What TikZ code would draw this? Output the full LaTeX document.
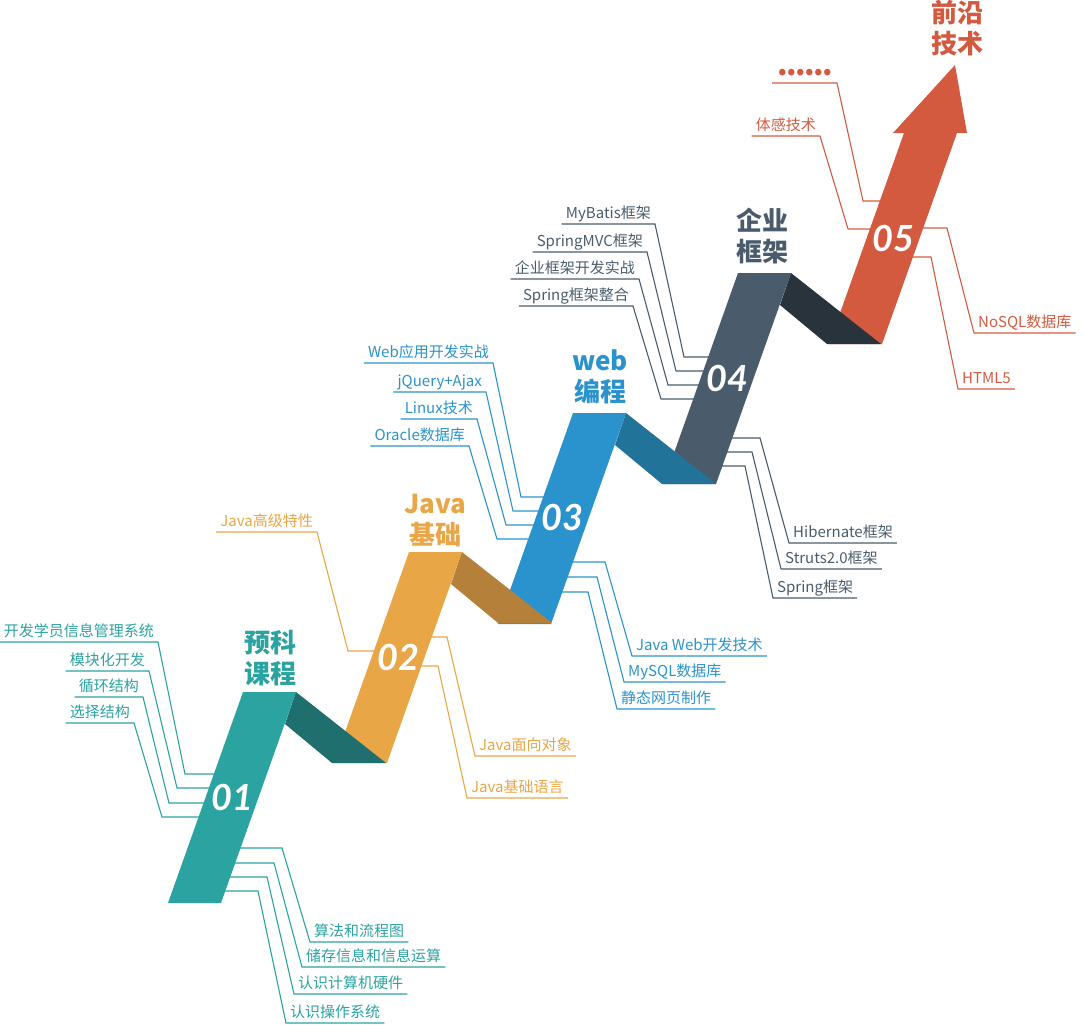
\documentclass[tikz,border=0pt]{standalone}
\usepackage{fontspec}
\setmainfont{Noto Sans CJK SC}
\newfontfamily\numfont{Lato}
\definecolor{Teal}{HTML}{2BA3A1}
\definecolor{TealDark}{HTML}{1F6F6E}
\definecolor{Amber}{HTML}{E9A646}
\definecolor{AmberDark}{HTML}{B5803A}
\definecolor{Sky}{HTML}{2A93CD}
\definecolor{SkyDark}{HTML}{22739A}
\definecolor{Slate}{HTML}{4A5C6C}
\definecolor{SlateDark}{HTML}{28333B}
\definecolor{Brick}{HTML}{D45A3F}
\tikzset{
  tag/.style={font=\fontsize{15}{15}\selectfont,inner xsep=4pt,inner ysep=1.5pt,text depth=4pt},
  lead/.style={line width=1.1pt},
  title/.style={font=\fontsize{26}{31}\selectfont\bfseries,align=center,inner sep=0pt,anchor=south},
  num/.style={font=\numfont\bfseries\itshape\fontsize{36}{36}\selectfont,text=white,inner sep=0pt}
}
% label left of a step: name, colour, text, underline end x, underline y, corner x, corner y, end x
\newcommand{\tagleft}[8]{%
  \node[tag,text=#2,anchor=south east] (#1) at (#4,#5) {#3};
  \draw[lead,#2] (#1.south west) -- (#1.south east) -- (#6,#7) -- (#8,#7);
}
% label right of a step: name, colour, text, start x, start y, corner x, label x, label y
\newcommand{\tagright}[8]{%
  \node[tag,text=#2,anchor=south west] (#1) at (#7,#8) {#3};
  \draw[lead,#2] (#4,#5) -- (#6,#5) -- (#1.south west) -- (#1.south east);
}

\begin{document}
\begin{tikzpicture}[x=1pt,y=-1pt]
  \useasboundingbox (0,0) rectangle (1084,1025);
  % 01
  \tagleft{t1a}{Teal}{开发学员信息管理系统}{158}{642}{185}{774}{235}
  \tagleft{t1b}{Teal}{模块化开发}{149}{671}{177}{788}{235}
  \tagleft{t1c}{Teal}{循环结构}{143}{697}{169}{803}{235}
  \tagleft{t1d}{Teal}{选择结构}{134}{723}{162}{817}{235}
  \tagright{t1e}{Teal}{算法和流程图}{215}{848}{282}{310}{942}
  \tagright{t1f}{Teal}{储存信息和信息运算}{215}{863}{274}{302}{967}
  \tagright{t1g}{Teal}{认识计算机硬件}{215}{877}{267}{294}{994}
  \tagright{t1h}{Teal}{认识操作系统}{215}{891}{258}{286}{1023}
  % 02
  \tagleft{t2a}{Amber}{Java高级特性}{317}{532}{348}{651}{400}
  \tagright{t2b}{Amber}{Java面向对象}{400}{637}{447}{475}{756}
  \tagright{t2c}{Amber}{Java基础语言}{395}{666}{438}{467}{798}
  % 03
  \tagleft{t3a}{Sky}{Web应用开发实战}{493}{363}{521}{497}{565}
  \tagleft{t3b}{Sky}{jQuery+Ajax}{486}{392}{513}{511}{565}
  \tagleft{t3c}{Sky}{Linux技术}{477}{419}{506}{525}{565}
  \tagleft{t3d}{Sky}{Oracle数据库}{469}{446}{497}{539}{565}
  \tagright{t3e}{Sky}{Java Web开发技术}{545}{562}{605}{632}{656}
  \tagright{t3f}{Sky}{MySQL数据库}{545}{577}{597}{624}{682}
  \tagright{t3g}{Sky}{静态网页制作}{540}{592}{588}{617}{709}
  % 04
  \tagleft{t4a}{Slate}{MyBatis框架}{655}{224}{684}{357}{730}
  \tagleft{t4b}{Slate}{SpringMVC框架}{647}{252}{676}{371}{730}
  \tagleft{t4c}{Slate}{企业框架开发实战}{639}{279}{668}{385}{730}
  \tagleft{t4d}{Slate}{Spring框架整合}{633}{306}{661}{399}{730}
  \tagright{t4e}{Slate}{Hibernate框架}{705}{438}{760}{789}{543}
  \tagright{t4f}{Slate}{Struts2.0框架}{705}{452}{752}{781}{569}
  \tagright{t4g}{Slate}{Spring框架}{700}{466}{745}{773}{598}
  % 05
  \node[tag,text=Brick,font=\fontsize{30}{30}\selectfont\bfseries\addfontfeature{LetterSpace=-5},anchor=base west,inner sep=0pt] (t5a) at (777,75) {......};
  \draw[lead,Brick] (772,83) -- (837,83) -- (863,201) -- (898,201);
  \tagleft{t5b}{Brick}{体感技术}{820}{136}{848}{229}{898}
  \tagright{t5c}{Brick}{NoSQL数据库}{900}{228}{947}{974}{333}
  \tagright{t5d}{Brick}{HTML5}{890}{257}{931}{958}{389}
  % steps
  \foreach \x/\y/\c in {243/692/Teal,409/552/Amber,573/413/Sky,738/273/Slate}
    \fill[\c] (\x,\y) -- ++(53,0) -- ++(-75,211) -- ++(-53,0) -- cycle;
  \fill[Brick] (829,344) -- (904,133) -- (893,133) -- (955,65) -- (967,133) -- (957,133) -- (882,344) -- cycle;
  \foreach \x/\y/\c in {296/692/TealDark,462/552/AmberDark,626/413/SkyDark,791/273/SlateDark}
    \fill[\c] (\x,\y) -- ++(90,71) -- ++(-54,0) -- ++(-47,-39) -- cycle;
  % numbers and titles
  \node[num] (n1) at (232,797) {01};
  \node[num] (n2) at (398,657) {02};
  \node[num] (n3) at (562,517) {03};
  \node[num] (n4) at (727,378) {04};
  \node[num] (n5) at (893,238) {05};
  \node[title,text=Teal] (h1) at (270,686) {预科\\课程};
  \node[title,text=Amber] (h2) at (435,547) {Java\\基础};
  \node[title,text=Sky] (h3) at (600,404) {web\\编程};
  \node[title,text=Slate] (h4) at (762,264) {企业\\框架};
  \node[title,text=Brick] (h5) at (957,56) {前沿\\技术};
\end{tikzpicture}
\end{document}
